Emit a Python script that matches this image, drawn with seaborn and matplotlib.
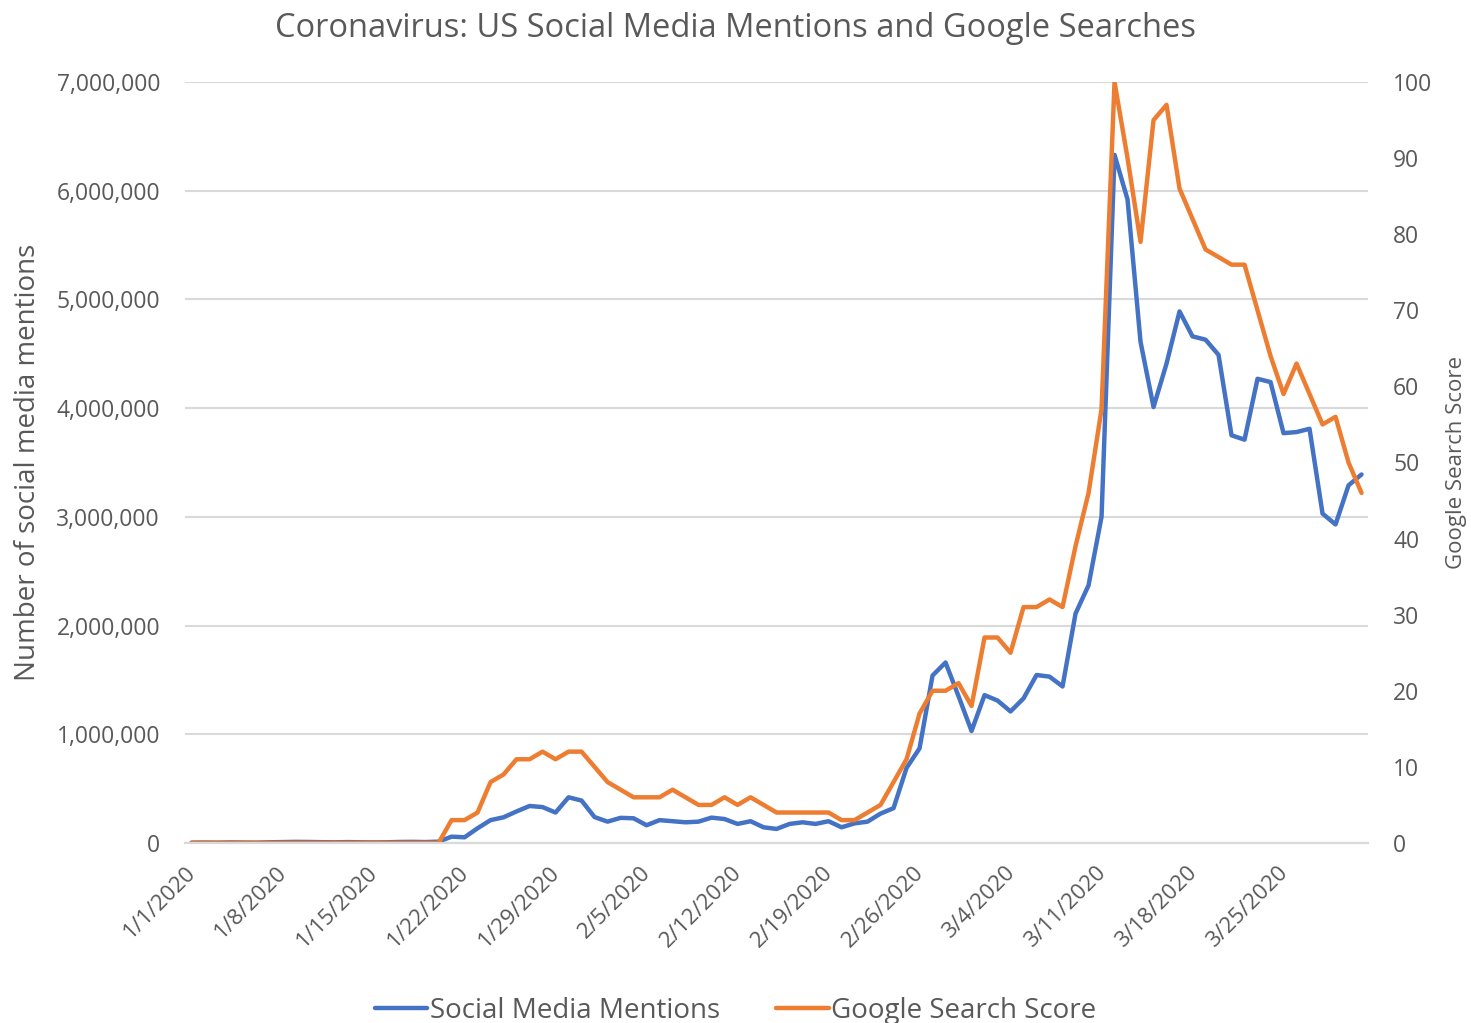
import pandas as pd
import numpy as np
import matplotlib.pyplot as plt
import seaborn as sns
from matplotlib.ticker import FuncFormatter

# Daily values, 1/1/2020 - 3/31/2020
dates = pd.date_range("2020-01-01", "2020-03-31", freq="D")

social_mentions = [
    3000, 4000, 3000, 5000, 4000, 3000, 6000, 8000, 10000, 9000,
    7000, 6000, 8000, 6000, 5000, 6000, 9000, 10000, 8000, 12000,
    58000, 52000, 135000, 210000, 236000, 290000, 340000, 330000, 280000, 420000,
    390000, 238000, 196000, 231000, 227000, 163000, 210000, 200000, 190000, 196000,
    233000, 220000, 175000, 200000, 144000, 129000, 175000, 190000, 175000, 200000,
    144000, 180000, 196000, 270000, 320000, 690000, 870000, 1540000, 1660000, 1350000,
    1030000, 1360000, 1310000, 1210000, 1330000, 1545000, 1530000, 1440000, 2110000, 2370000,
    3000000, 6330000, 5920000, 4610000, 4010000, 4410000, 4890000, 4660000, 4630000, 4490000,
    3750000, 3710000, 4270000, 4240000, 3770000, 3780000, 3810000, 3030000, 2930000, 3290000,
    3390000,
]

google_score = [
    0, 0, 0, 0, 0, 0, 0, 0, 0, 0,
    0, 0, 0, 0, 0, 0, 0, 0, 0, 0,
    3, 3, 4, 8, 9, 11, 11, 12, 11, 12,
    12, 10, 8, 7, 6, 6, 6, 7, 6, 5,
    5, 6, 5, 6, 5, 4, 4, 4, 4, 4,
    3, 3, 4, 5, 8, 11, 17, 20, 20, 21,
    18, 27, 27, 25, 31, 31, 32, 31, 39, 46,
    57, 100, 90, 79, 95, 97, 86, 82, 78, 77,
    76, 76, 70, 64, 59, 63, 59, 55, 56, 50,
    46,
]

tick_labels = ["1/1/2020", "1/8/2020", "1/15/2020", "1/22/2020", "1/29/2020",
               "2/5/2020", "2/12/2020", "2/19/2020", "2/26/2020", "3/4/2020",
               "3/11/2020", "3/18/2020", "3/25/2020", ""]

df = pd.DataFrame({"date": dates,
                   "Social Media Mentions": social_mentions,
                   "Google Search Score": google_score})
# points sit between the day tick marks, like the Excel date axis
df["x"] = df["date"] + pd.Timedelta(hours=12)

blue = "#4472C4"
orange = "#ED7D31"
text_gray = "#595959"
grid_gray = "#D9D9D9"

sns.set_style("white")
plt.rcParams["font.family"] = ["Open Sans", "DejaVu Sans"]

fig, ax = plt.subplots(figsize=(14.71, 10.23), dpi=100)
fig.subplots_adjust(left=0.1258, right=0.930, top=0.9198, bottom=0.176)

sns.lineplot(data=df, x="x", y="Social Media Mentions", ax=ax, color=blue,
             linewidth=3.2, label="Social Media Mentions", legend=False)
ax2 = ax.twinx()
sns.lineplot(data=df, x="x", y="Google Search Score", ax=ax2, color=orange,
             linewidth=3.2, label="Google Search Score", legend=False)

# axes limits and ticks
tick_dates = pd.date_range("2020-01-01", periods=len(tick_labels), freq="7D")
ax.set_xlim(tick_dates[0], pd.Timestamp("2020-04-01"))
ax.set_xticks(tick_dates)
ax.set_xticklabels(tick_labels, rotation=45, ha="right", rotation_mode="anchor",
                   fontsize=16, color=text_gray)
ax.set_ylim(0, 7000000)
ax.set_yticks(np.arange(0, 7000001, 1000000))
ax.yaxis.set_major_formatter(FuncFormatter(lambda v, p: f"{int(v):,}"))
ax2.set_ylim(0, 100)
ax2.set_yticks(np.arange(0, 101, 10))

for a in (ax, ax2):
    for s in ["top", "left", "right"]:
        a.spines[s].set_visible(False)
    a.spines["bottom"].set_color(grid_gray)
    a.spines["bottom"].set_linewidth(1.5)
ax.tick_params(axis="x", length=8, width=1.5, color=grid_gray, direction="out", pad=6)
ax.tick_params(axis="y", length=0, labelsize=16.5, labelcolor=text_gray, pad=18)
ax2.tick_params(axis="y", length=0, labelsize=16.5, labelcolor=text_gray, pad=18)

ax.grid(axis="y", color=grid_gray, linewidth=1.5)
ax.set_axisbelow(True)

ax.set_xlabel("")
ax.set_ylabel("Number of social media mentions", fontsize=20, color=text_gray)
ax.yaxis.set_label_coords(-0.121, 0.5)
ax2.set_ylabel("Google Search Score", fontsize=16, color=text_gray)
ax2.yaxis.set_label_coords(1.066, 0.5)

fig.suptitle("Coronavirus: US Social Media Mentions and Google Searches",
             fontsize=23.5, color=text_gray, y=0.988)

handles = ax.get_lines()[:1] + ax2.get_lines()[:1]
fig.legend(handles, ["Social Media Mentions", "Google Search Score"],
           loc="lower center", bbox_to_anchor=(0.5, -0.026), ncol=2, frameon=False,
           fontsize=20, labelcolor=text_gray, handlelength=1.9, handletextpad=0.1,
           columnspacing=2.0)

fig.savefig("out.png", dpi=100)
